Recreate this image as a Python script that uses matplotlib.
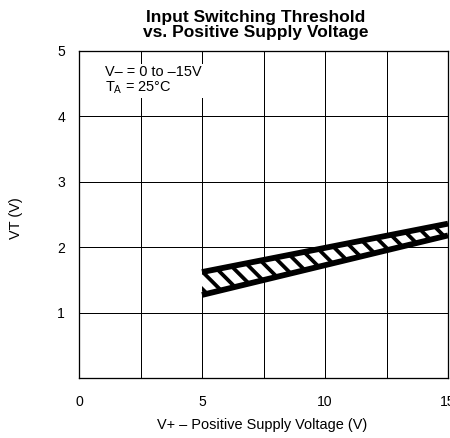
import matplotlib
matplotlib.use("Agg")
import matplotlib.pyplot as plt

# Data
supply_v = [5, 15]
vt_upper = [1.62, 2.36]
vt_lower = [1.27, 2.18]
x_ticks = [0, 5, 10, 15]
x_grid = [0, 2.5, 5, 7.5, 10, 12.5, 15]
y_ticks = [1, 2, 3, 4, 5]
title = "Input Switching Threshold\nvs. Positive Supply Voltage"
xlabel = "V+ – Positive Supply Voltage (V)"
ylabel = "VT (V)"
note = "V– = 0 to –15V\nT$_\\mathregular{A}$ = 25°C"

DPI = 52
px = 72 / DPI  # points per pixel

plt.rcParams['font.family'] = ['Liberation Sans', 'DejaVu Sans']
plt.rcParams['hatch.linewidth'] = 3.8 * px

fig = plt.figure(figsize=(450/DPI, 438/DPI), dpi=DPI)
ax = fig.add_axes([79/450, 1-378/438, (448-79)/450, (378-51)/438])
ax.set_xlim(0, 15)
ax.set_ylim(0, 5)

for xg in x_grid:
    ax.axvline(xg, color='black', lw=1.0*px, zorder=1)
for yg in y_ticks:
    ax.axhline(yg, color='black', lw=1.0*px, zorder=1)

ax.fill_between(supply_v, vt_lower, vt_upper, facecolor='white',
                edgecolor='black', hatch='\\', linewidth=0, zorder=2)
ax.plot(supply_v, vt_upper, color='black', lw=5.8*px, solid_capstyle='butt', zorder=3)
ax.plot(supply_v, vt_lower, color='black', lw=5.8*px, solid_capstyle='butt', zorder=3)

ax.set_xticks(x_ticks)
ax.set_yticks(y_ticks)
ax.tick_params(axis='x', length=0, pad=17*px, labelsize=14*px)
ax.tick_params(axis='y', length=0, pad=14*px, labelsize=14*px)
for s in ax.spines.values():
    s.set_linewidth(1.3*px)
    s.set_zorder(4)

fig.text(256/450, 1-10/438, title, ha='center', va='top',
         fontsize=17.4*px, fontweight='bold', linespacing=1.02)
fig.text(262/450, 1-425/438, xlabel, ha='center', va='center', fontsize=14.5*px)
fig.text(16/450, 1-218/438, ylabel, ha='center', va='center', fontsize=14.5*px,
         rotation=90)
fig.text(105/450, 1-80/438, note, ha='left', va='center', fontsize=14.5*px,
         linespacing=1.05, zorder=5,
         bbox=dict(facecolor='white', edgecolor='none', pad=2*px))

fig.savefig("out.png", dpi=DPI)
